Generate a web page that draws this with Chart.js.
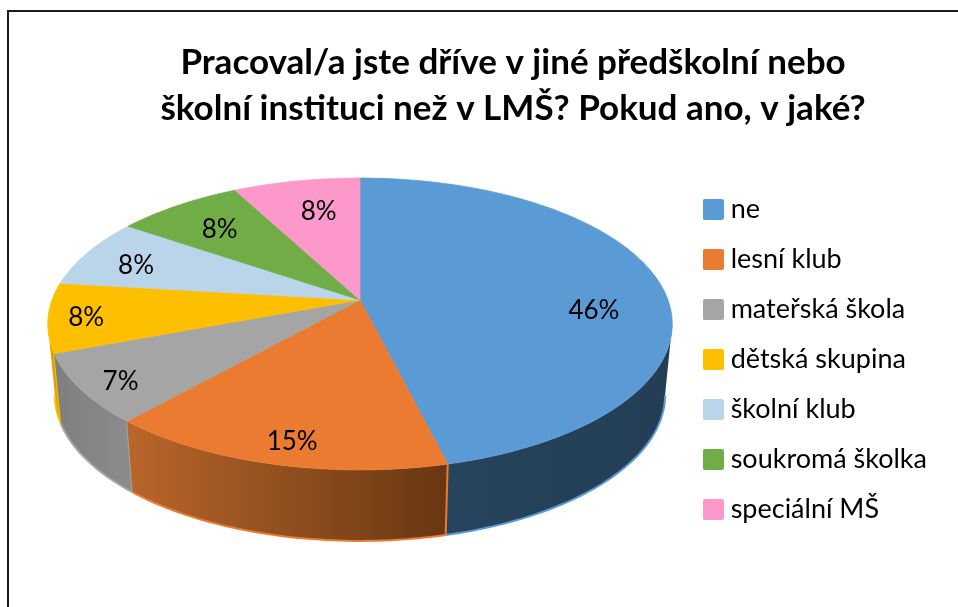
<!DOCTYPE html>
<html>
<head>
<meta charset="utf-8">
<title>Pracoval/a jste dříve</title>
<script src="https://cdn.jsdelivr.net/npm/chart.js@4"></script>
<style>
  html, body { margin: 0; background: #fff; overflow: hidden; }
  canvas { display: block; }
</style>
</head>
<body>
<canvas id="chart" width="958" height="607"></canvas>
<script>
const titleLines = ['Pracoval/a jste dříve v jiné předškolní nebo', 'školní instituci než v LMŠ? Pokud ano, v jaké?'];
const categories = ['ne', 'lesní klub', 'mateřská škola', 'dětská skupina', 'školní klub', 'soukromá školka', 'speciální MŠ'];
// slice sizes as they measure on the picture, printed labels as they stand there
const shares = [46.2, 15.4, 7.7, 7.7, 7.7, 7.7, 7.7];
const shareLabels = ['46%', '15%', '7%', '8%', '8%', '8%', '8%'];
const colors = ['#5b9bd5', '#eb7b30', '#a5a5a5', '#fdbf00', '#bad4ea', '#70ad47', '#fd98cb'];
// side wall shades, left end and right end of each slice
const wallLeft = ['#27445e', '#b9662a', '#7f7f7f', '#d9a300', '#bad4ea', '#70ad47', '#fd98cb'];
const wallRight = ['#233e54', '#683713', '#8c8c8c', '#d9a300', '#bad4ea', '#70ad47', '#fd98cb'];
// label shift from the default spot on the slice
const labelShift = [[8, 23], [-5, 24], [-35, 17], [-41, 5], [-17, 2], [0, 3], [8, 4]];

// tilted disc: where the slices meet, and how the circle is foreshortened
const CX = 360, CY = 300, SX = 308, SY = 142, TILT = 0.1643;
const DEPTH = 71, BOTTOM_SCALE = 0.977, LABEL_R = 0.75;

function project(angle, r) {
  const u = Math.cos(angle) * r, v = Math.sin(angle) * r;
  const w = 1 - TILT * v;
  return { x: CX + SX * u / w, y: CY + SY * v / w };
}

function lower(p) {
  return { x: CX + (p.x - CX) * BOTTOM_SCALE, y: p.y + DEPTH };
}

function sampleAngles(a0, a1) {
  const out = [];
  const n = Math.max(2, Math.ceil((a1 - a0) / 0.02));
  for (let i = 0; i <= n; i++) out.push(a0 + (a1 - a0) * i / n);
  return out;
}

function drawWall(ctx, arc, i) {
  // only the part of the rim that faces the viewer
  const front0 = Math.asin(TILT), front1 = Math.PI - front0;
  const a0 = Math.max(arc.startAngle, front0), a1 = Math.min(arc.endAngle, front1);
  if (a1 <= a0) return;
  const top = sampleAngles(a0, a1).map(a => project(a, 1));
  const bottom = top.map(lower);
  const xs = top.concat(bottom).map(p => p.x);
  const grad = ctx.createLinearGradient(Math.min(...xs), 0, Math.max(...xs), 0);
  grad.addColorStop(0, wallLeft[i]);
  grad.addColorStop(1, wallRight[i]);
  ctx.beginPath();
  top.forEach((p, k) => (k ? ctx.lineTo(p.x, p.y) : ctx.moveTo(p.x, p.y)));
  bottom.slice().reverse().forEach(p => ctx.lineTo(p.x, p.y));
  ctx.closePath();
  ctx.fillStyle = grad;
  ctx.fill();
  // thin edge in the slice colour along the foot and the seam
  ctx.beginPath();
  bottom.forEach((p, k) => (k ? ctx.lineTo(p.x, p.y) : ctx.moveTo(p.x, p.y)));
  ctx.strokeStyle = colors[i];
  ctx.lineWidth = 2;
  ctx.stroke();
  if (arc.startAngle >= front0) {
    // seam on the start side of the slice, on screen this is its right edge
    ctx.beginPath();
    ctx.moveTo(top[0].x, top[0].y);
    ctx.lineTo(bottom[0].x, bottom[0].y);
    ctx.stroke();
  }
}

function drawTop(ctx, arc, i) {
  ctx.beginPath();
  ctx.moveTo(CX, CY);
  sampleAngles(arc.startAngle, arc.endAngle).forEach(a => {
    const p = project(a, 1);
    ctx.lineTo(p.x, p.y);
  });
  ctx.closePath();
  ctx.fillStyle = colors[i];
  ctx.strokeStyle = colors[i];
  ctx.lineWidth = 0.75;
  ctx.fill();
  ctx.stroke();
}

const tiltedPie = {
  id: 'tiltedPie',
  beforeDraw(chart) {
    const ctx = chart.ctx;
    ctx.save();
    ctx.strokeStyle = '#1a1a1a';
    ctx.lineWidth = 2;
    ctx.beginPath();
    ctx.moveTo(8, 607);
    ctx.lineTo(8, 11);
    ctx.lineTo(958, 11);
    ctx.stroke();
    ctx.restore();
  },
  beforeDatasetDraw(chart) {
    // the library's arcs give the angles, the disc is projected here
    const ctx = chart.ctx;
    const arcs = chart.getDatasetMeta(0).data;
    ctx.save();
    [0, 3, 2, 1].forEach(i => drawWall(ctx, arcs[i], i));
    arcs.forEach((arc, i) => drawTop(ctx, arc, i));
    ctx.font = '26px Lato';
    ctx.fillStyle = '#000';
    ctx.textAlign = 'center';
    ctx.textBaseline = 'middle';
    arcs.forEach((arc, i) => {
      const p = project((arc.startAngle + arc.endAngle) / 2, LABEL_R);
      ctx.fillText(shareLabels[i], p.x + labelShift[i][0], p.y + labelShift[i][1]);
    });
    ctx.restore();
    return false;
  }
};

function swatch(color) {
  const c = document.createElement('canvas');
  c.width = 21;
  c.height = 21;
  const g = c.getContext('2d');
  g.fillStyle = color;
  g.beginPath();
  g.roundRect(0, 0, 21, 21, 2);
  g.fill();
  return c;
}

new Chart(document.getElementById('chart'), {
  type: 'pie',
  data: {
    labels: categories,
    datasets: [{ data: shares, backgroundColor: colors, borderWidth: 0 }]
  },
  options: {
    responsive: false,
    animation: false,
    layout: { padding: { left: 89, right: 21, top: 39, bottom: 20 } },
    plugins: {
      tooltip: { enabled: false },
      title: {
        display: true,
        text: titleLines,
        color: '#000',
        font: { family: 'Lato', size: 35, weight: 'bold', lineHeight: 1.33 },
        padding: { top: 0, bottom: 0 }
      },
      legend: {
        position: 'right',
        fullSize: false,
        labels: {
          color: '#000',
          font: { family: 'Lato', size: 27 },
          usePointStyle: true,
          pointStyleWidth: 8,
          boxHeight: 21,
          padding: 23,
          generateLabels: chart => categories.map((name, i) => ({
            text: name,
            pointStyle: swatch(colors[i]),
            fillStyle: colors[i],
            strokeStyle: colors[i],
            fontColor: '#000',
            lineWidth: 0,
            index: i
          }))
        }
      }
    }
  },
  plugins: [tiltedPie]
});
</script>
</body>
</html>
